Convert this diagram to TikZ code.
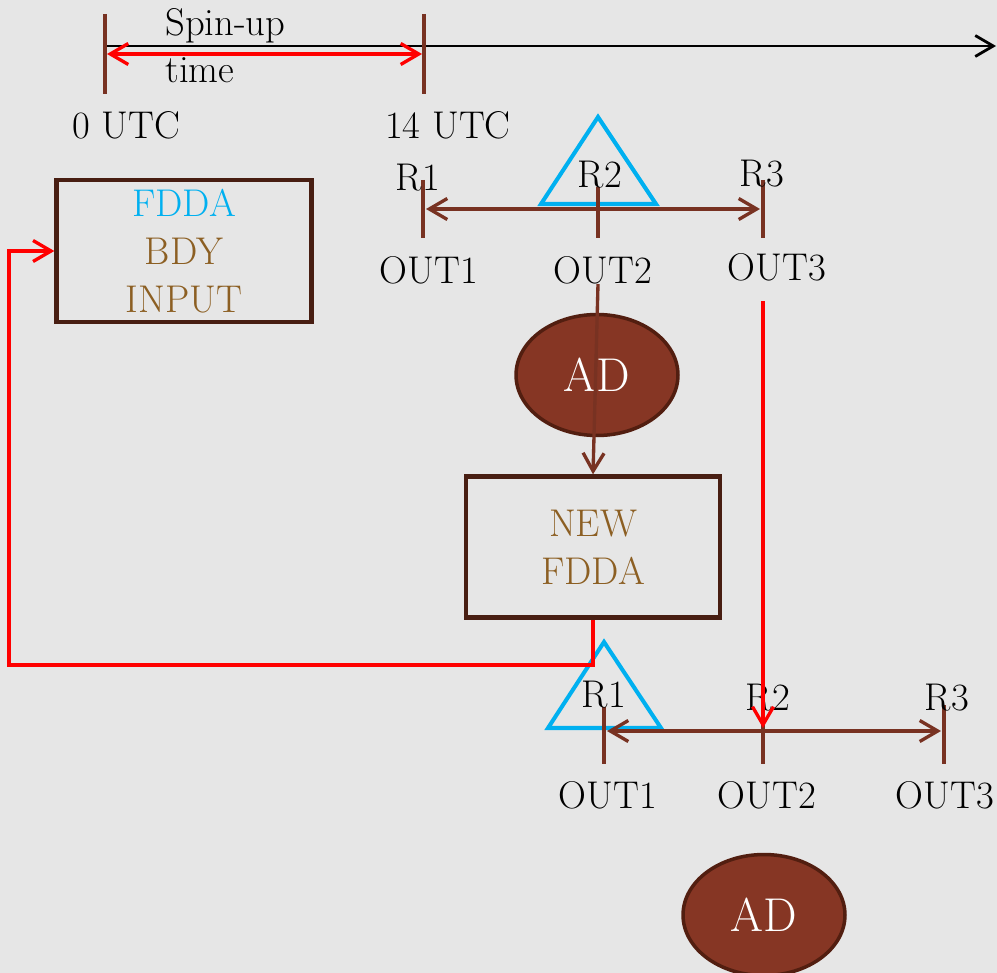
\documentclass[tikz,border=0pt]{standalone}
\usepackage{fontspec}
\usetikzlibrary{arrows.meta, shapes.geometric, positioning}
\definecolor{bggray}{RGB}{230,230,230}
\definecolor{linebrown}{RGB}{120,50,34}
\definecolor{boxbrown}{RGB}{72,30,18}
\definecolor{textbrown}{RGB}{140,95,35}
\definecolor{skyblue}{RGB}{0,176,240}
\definecolor{adfill}{RGB}{134,54,36}
\definecolor{adborder}{RGB}{82,30,16}

\begin{document}
\begin{tikzpicture}[
		x=0.02cm, y=-0.02cm,
		>={Straight Barb[length=3.6mm, width=4.2mm]},
		% estilos de las piezas
		lbl/.style={inner sep=0pt, font=\fontsize{22}{26}\selectfont},
		tickline/.style={linebrown, line width=1.9pt},
		brownline/.style={linebrown, line width=1.9pt},
		redline/.style={red, line width=1.9pt},
		timeline/.style={black, line width=1.6pt},
		tri/.style={draw=skyblue, line width=2.3pt, line join=miter},
		databox/.style={rectangle, draw=boxbrown, line width=2.5pt, align=center, text=textbrown, font=\fontsize{22}{27.5}\selectfont},
		adnode/.style={ellipse, draw=adborder, fill=adfill, line width=2pt, minimum width=3.24cm, minimum height=2.42cm, text=white, font=\fontsize{27}{30}\selectfont}
		]
		
		\fill[bggray] (0,0) rectangle (997,973);
		\useasboundingbox (0,0) rectangle (997,973);
		
		% linea de tiempo
		\coordinate (tstart) at (105,46);
		\coordinate (tend) at (996,46);
		\coordinate (t0top) at (105,14);
		\coordinate (t0bot) at (105,94);
		\coordinate (t14top) at (424,14);
		\coordinate (t14bot) at (424,94);
		\coordinate (spinL) at (107,54);
		\coordinate (spinR) at (422,54);
		\draw[timeline, ->] (tstart) -- (tend);
		\draw[tickline] (t0top) -- (t0bot);
		\draw[tickline] (t14top) -- (t14bot);
		\draw[redline, <->] (spinL) -- (spinR);
		\node[lbl, anchor=base west] (spin) at (165,36) {Spin-up};
		\node[lbl, anchor=base west] (time) at (165,83) {time};
		\node[lbl, anchor=base] (utc0) at (126,139) {0 UTC};
		\node[lbl, anchor=base] (utc14) at (448,139) {14 UTC};
		
		% cajas
		\node[databox, minimum width=5.1cm, minimum height=2.84cm] (bdy) at (184,251) {\textcolor{skyblue}{FDDA}\\BDY\\INPUT};
		\node[databox, minimum width=5.08cm, minimum height=2.82cm] (newfdda) at (593,547) {NEW\\FDDA};
		
		% primera serie R1 R2 R3
		\draw[tri] (598,117) -- (541,204) -- (656,204) -- cycle;
		\coordinate (r1top) at (423,180);
		\coordinate (r1bot) at (423,238);
		\coordinate (r2top) at (598,187);
		\coordinate (r2bot) at (598,238);
		\coordinate (r3top) at (763,180);
		\coordinate (r3bot) at (763,238);
		\coordinate (rowL) at (426,209);
		\coordinate (rowR) at (760,209);
		\draw[tickline] (r1top) -- (r1bot);
		\draw[tickline] (r2top) -- (r2bot);
		\draw[tickline] (r3top) -- (r3bot);
		\draw[brownline, <->] (rowL) -- (rowR);
		\node[lbl, anchor=base] (r1) at (418,191) {R1};
		\node[lbl, anchor=base] (r2) at (600,188) {R2};
		\node[lbl, anchor=base] (r3) at (762,187) {R3};
		\node[lbl, anchor=base] (out1) at (429,283) {OUT1};
		\node[lbl, anchor=base] (out2) at (603,283) {OUT2};
		\node[lbl, anchor=base] (out3) at (777,280) {OUT3};
		
		% AD superior y flecha a NEW FDDA
		\node[adnode] (adtop) at (597,375) {AD};
		\coordinate (out2drop) at (598,284);
		\draw[brownline, ->] (out2drop) -- (newfdda.north);
		
		% segunda serie R1 R2 R3
		\draw[tri] (604,642) -- (548,728) -- (661,728) -- cycle;
		\coordinate (s1top) at (604,707);
		\coordinate (s1bot) at (604,764);
		\coordinate (s2top) at (763,707);
		\coordinate (s2bot) at (763,764);
		\coordinate (s3top) at (944,705);
		\coordinate (s3bot) at (944,764);
		\coordinate (srowL) at (607,731);
		\coordinate (srowR) at (941,731);
		\draw[tickline] (s1top) -- (s1bot);
		\draw[tickline] (s2top) -- (s2bot);
		\draw[tickline] (s3top) -- (s3bot);
		\draw[brownline, <->] (srowL) -- (srowR);
		\node[lbl, anchor=base] (s1) at (604,707) {R1};
		\node[lbl, anchor=base] (s2) at (768,710) {R2};
		\node[lbl, anchor=base] (s3) at (947,710) {R3};
		\node[lbl, anchor=base] (sout1) at (608,808) {OUT1};
		\node[lbl, anchor=base] (sout2) at (767,808) {OUT2};
		\node[lbl, anchor=base] (sout3) at (945,808) {OUT3};
		\node[adnode] (adbot) at (764,915) {AD};
		
		% lineas rojas
		\coordinate (loopL) at (9,665);
		\draw[redline, ->] (newfdda.south) |- (loopL) |- (bdy.west);
		\coordinate (out3drop) at (763,301);
		\coordinate (s2hit) at (763,728);
		\draw[redline, ->] (out3drop) -- (s2hit);
		
	\end{tikzpicture}
\end{document}
